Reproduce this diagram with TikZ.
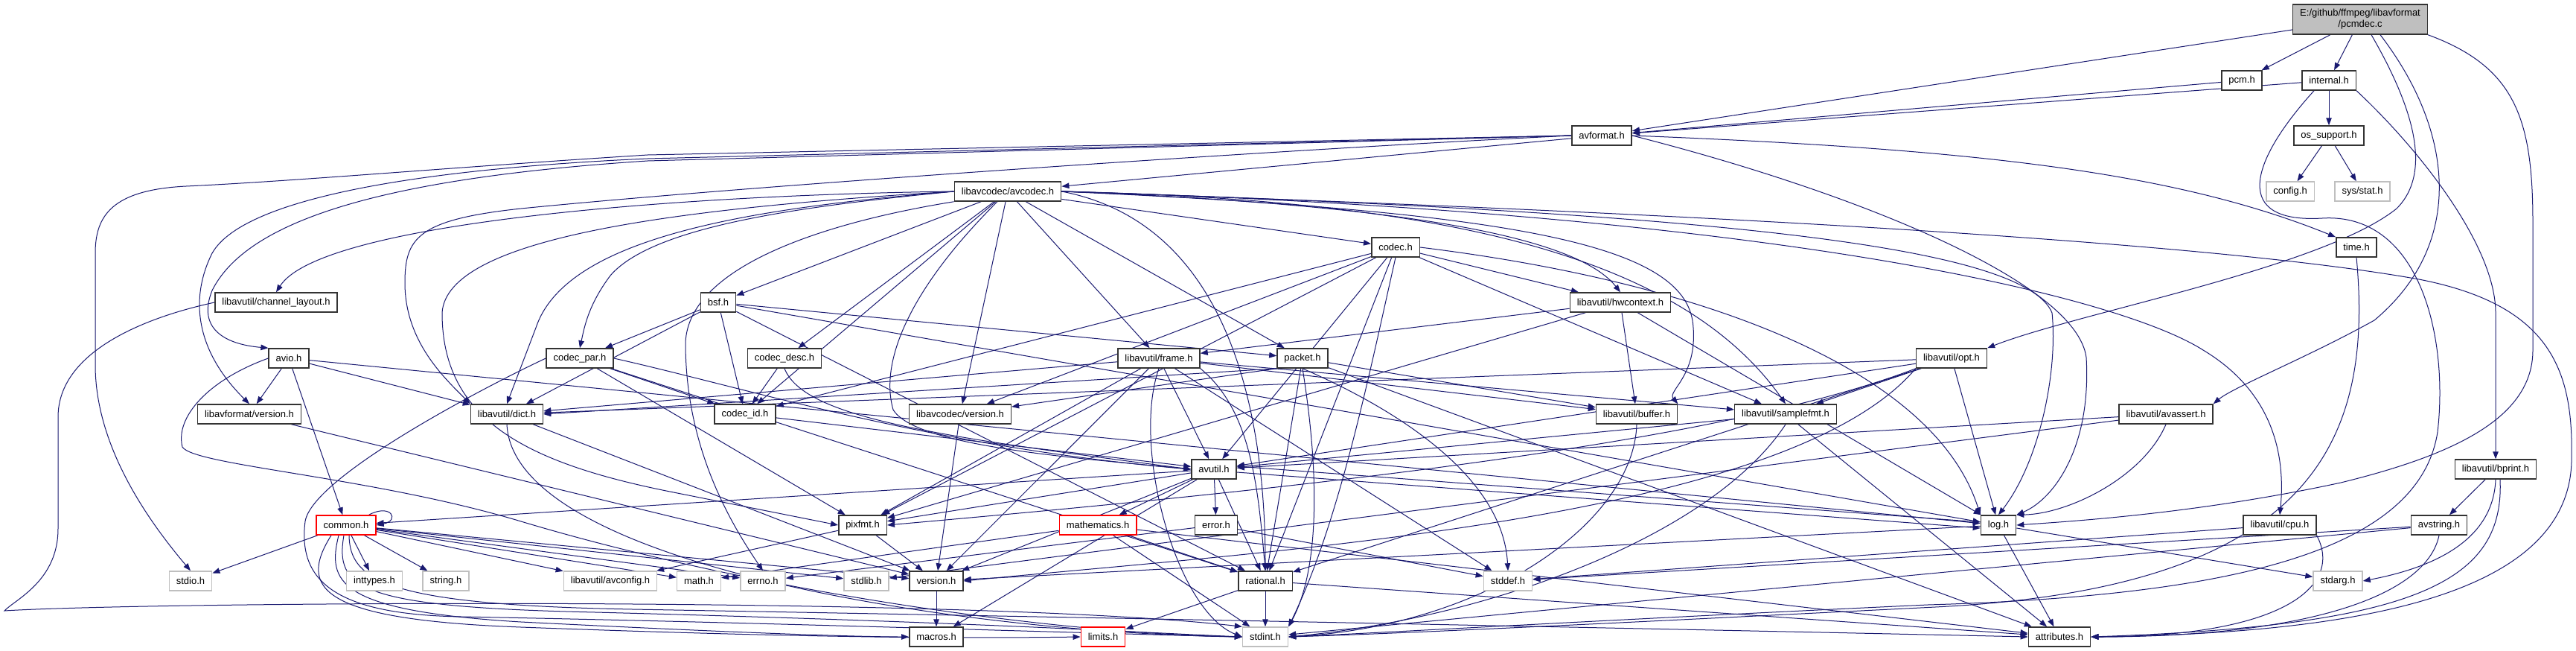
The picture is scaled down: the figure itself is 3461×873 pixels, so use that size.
\documentclass[tikz,border=0pt]{standalone}
\usepackage{fontspec}
\setmainfont{Liberation Sans}
\usetikzlibrary{arrows.meta}
\definecolor{edgec}{HTML}{191970}
\definecolor{grayb}{HTML}{BFBFBF}
\pgfdeclarelayer{back}
\pgfdeclarelayer{bg}
\pgfsetlayers{back,bg,main}
\begin{document}
\begin{tikzpicture}[x=1pt,y=-1pt,
  every node/.style={font=\fontsize{13}{15}\selectfont},
  nd/.style={draw=black!80, line width=1.5pt, fill=white, minimum height=26pt, inner xsep=9.5pt, inner ysep=0pt, text=black},
  sys/.style={nd, draw=grayb},
  trunc/.style={nd, draw=red},
  e/.style={draw=edgec, line width=1pt, -{Triangle[length=10pt,width=7.5pt]}},
]
\begin{pgfonlayer}{back}
\fill[white] (0,0) rectangle (3461,873);
\end{pgfonlayer}
\useasboundingbox (0,0) rectangle (3461,873);
% ---------- nodes ----------
\node[nd, fill=grayb, align=center, minimum height=40pt] (pcmdec) at (3171,26) {E:/github/ffmpeg/libavformat\\/pcmdec.c};
\node[nd] (pcm) at (3012,108) {pcm.h};
\node[nd] (internal) at (3129,108) {internal.h};
\node[nd] (avformat) at (2152,182) {avformat.h};
\node[nd] (ossupport) at (3129,182) {os\_support.h};
\node[sys] (config) at (3077,257) {config.h};
\node[sys] (sysstat) at (3174,257) {sys/stat.h};
\node[nd] (avcodec) at (1354,257) {libavcodec/avcodec.h};
\node[nd] (time) at (3166,332) {time.h};
\node[nd] (codec) at (1875,332) {codec.h};
\node[nd] (chlayout) at (371,406) {libavutil/channel\_layout.h};
\node[nd] (bsf) at (965,406) {bsf.h};
\node[nd] (hwctx) at (2177,406) {libavutil/hwcontext.h};
\node[nd] (avio) at (388,481) {avio.h};
\node[nd] (codecpar) at (779,481) {codec\_par.h};
\node[nd] (codecdesc) at (1054,481) {codec\_desc.h};
\node[nd] (frame) at (1557,481) {libavutil/frame.h};
\node[nd] (packet) at (1750,481) {packet.h};
\node[nd] (opt) at (2622,481) {libavutil/opt.h};
\node[nd] (lavfver) at (335,556) {libavformat/version.h};
\node[nd] (dict) at (681,556) {libavutil/dict.h};
\node[nd] (codecid) at (1001,556) {codec\_id.h};
\node[nd] (lavcver) at (1290,556) {libavcodec/version.h};
\node[nd] (buffer) at (2199,556) {libavutil/buffer.h};
\node[nd] (samplefmt) at (2399,556) {libavutil/samplefmt.h};
\node[nd] (avassert) at (2910,556) {libavutil/avassert.h};
\node[nd] (avutil) at (1631,630) {avutil.h};
\node[nd] (bprint) at (3353,630) {libavutil/bprint.h};
\node[trunc] (common) at (465,705) {common.h};
\node[nd] (pixfmt) at (1159,705) {pixfmt.h};
\node[trunc] (mathematics) at (1475,705) {mathematics.h};
\node[nd] (error) at (1634,705) {error.h};
\node[nd] (log) at (2685,705) {log.h};
\node[nd] (cpu) at (3063,705) {libavutil/cpu.h};
\node[nd] (avstring) at (3277,705) {avstring.h};
\node[sys] (stdio) at (256,780) {stdio.h};
\node[sys] (inttypes) at (503,780) {inttypes.h};
\node[sys] (string) at (599,780) {string.h};
\node[sys] (avconfig) at (820,780) {libavutil/avconfig.h};
\node[sys] (math) at (939,780) {math.h};
\node[sys] (errno) at (1025,780) {errno.h};
\node[sys] (stdlib) at (1164,780) {stdlib.h};
\node[nd] (version) at (1258,780) {version.h};
\node[nd] (rational) at (1700,780) {rational.h};
\node[sys] (stddef) at (2026,780) {stddef.h};
\node[sys] (stdarg) at (3141,780) {stdarg.h};
\node[nd] (macros) at (1258,855) {macros.h};
\node[trunc] (limits) at (1482,855) {limits.h};
\node[sys] (stdint) at (1700,855) {stdint.h};
\node[nd] (attributes) at (2767,855) {attributes.h};
% ---------- edges ----------
\begin{pgfonlayer}{bg}
% pcmdec
\draw[e] (pcmdec) -- (avformat);
\draw[e] (pcmdec) -- (pcm);
\draw[e] (pcmdec) -- (internal);
\draw[e] ([xshift=15pt]pcmdec.south) .. controls (3240,140) and (3270,230) .. (3220,280) .. controls (3120,360) and (2790,420) .. (opt.north east);
\draw[e] ([xshift=27pt]pcmdec.south) .. controls (3300,180) and (3310,330) .. (3190,430) .. controls (3100,480) and (3000,520) .. (avassert.north east);
\draw[e] (pcmdec.south east) .. controls (3380,90) and (3403,160) .. (3403,300) -- (3403,470) .. controls (3403,560) and (3300,610) .. (3145,648) .. controls (2950,690) and (2780,700) .. (log.east);
% pcm, internal, os_support
\draw[e] (pcm) -- (avformat);
\draw[e] (internal) -- (avformat);
\draw[e] (internal) -- (ossupport);
\draw[e] (internal.south east) .. controls (3250,200) and (3353,330) .. (3353,420) -- (bprint.north);
\draw[e] ([xshift=-20pt]internal.south) .. controls (3020,220) and (3000,300) .. (3120,293) .. controls (3250,285) and (3290,450) .. (3275,580) .. controls (3250,740) and (3000,800) .. (2590,812) .. controls (2200,830) and (1850,850) .. (stdint.east);
\draw[e] (ossupport) -- (config);
\draw[e] (ossupport) -- (sysstat);
% avformat
\draw[e] (avformat) -- (avcodec);
\draw[e] (avformat.east) .. controls (2650,200) and (2920,230) .. (time.north west);
\draw[e] (avformat.west) -- (870,208) .. controls (600,225) and (400,243) .. (250,250) .. controls (150,255) and (128,290) .. (128,340) -- (128,490) .. controls (128,600) and (200,700) .. (stdio.north);
\draw[e] (avformat.west) -- (870,213) .. controls (600,225) and (330,260) .. (285,340) .. controls (255,400) and (262,470) .. (lavfver.north);
\draw[e] (avformat.west) -- (870,216) .. controls (500,240) and (330,300) .. (285,390) .. controls (265,440) and (300,462) .. (avio.north west);
\draw[e] (avformat.west) .. controls (1700,202) and (1000,250) .. (700,280) .. controls (560,295) and (544,320) .. (544,380) .. controls (544,460) and (600,510) .. (dict.north west);
\draw[e] (avformat.east) .. controls (2500,260) and (2790,380) .. (2803,480) .. controls (2810,600) and (2760,670) .. (log.north east);
\draw[e] (time.south) .. controls (3190,600) and (3100,790) .. (2600,815) .. controls (2200,835) and (1900,850) .. (stdint.east);
% avcodec
\draw[e] (avcodec.south west) .. controls (1100,300) and (925,360) .. (921,460) .. controls (921,600) and (980,700) .. (errno.north);
\draw[e] (avcodec.east) .. controls (1900,268) and (2250,330) .. (samplefmt.north);
\draw[e] (avcodec.east) .. controls (2400,290) and (3000,330) .. (3250,375) .. controls (3430,410) and (3458,500) .. (3455,620) .. controls (3450,790) and (3200,850) .. (attributes.east);
\draw[e] ([xshift=-14pt]avcodec.south) .. controls (1230,380) and (1180,480) .. (1200,550) .. controls (1230,600) and (1450,615) .. (avutil.west);
\draw[e] (avcodec.east) .. controls (2050,285) and (2270,330) .. (2275,440) .. controls (2280,505) and (2240,525) .. (buffer.north east);
\draw[e] (avcodec.east) .. controls (2400,285) and (2850,400) .. (2960,470) .. controls (3060,530) and (3070,620) .. (cpu.north);
\draw[e] (avcodec.west) .. controls (900,262) and (430,300) .. (chlayout.north);
\draw[e] (avcodec.west) .. controls (1000,280) and (760,320) .. (720,440) -- (dict.north);
\draw[e] (avcodec) -- (frame);
\draw[e] (avcodec.east) .. controls (1900,275) and (2120,320) .. (hwctx.north);
\draw[e] (avcodec.east) .. controls (2300,285) and (2720,330) .. (2757,420) .. controls (2765,500) and (2740,620) .. (log.north);
\draw[e] (avcodec.west) .. controls (900,280) and (600,320) .. (594,420) .. controls (594,560) and (700,620) .. (900,660) -- (pixfmt.west);
\draw[e] (avcodec.east) .. controls (1650,300) and (1700,550) .. (rational.north);
\draw[e] (avcodec) -- (bsf);
\draw[e] (avcodec) -- (codec);
\draw[e] (avcodec) -- (codecdesc);
\draw[e] (avcodec.west) .. controls (1100,275) and (880,300) .. (820,370) .. controls (790,410) and (785,440) .. (codecpar.north);
\draw[e] (avcodec) -- (codecid);
\draw[e] (avcodec) -- (packet);
\draw[e] (avcodec) -- (lavcver);
% channel_layout
\draw[e] (chlayout.west) .. controls (200,425) and (78,470) .. (78,560) -- (78,710) .. controls (78,780) and (20,805) .. (6,820) .. controls (200,808) and (1300,800) .. (stdint.north west);
% bsf
\draw[e] (bsf) -- (dict);
\draw[e] (bsf) -- (log);
\draw[e] (bsf) -- (rational);
\draw[e] (bsf) -- (codecid);
\draw[e] (bsf) -- (codecpar);
\draw[e] (bsf) -- (packet);
% codec
\draw[e] (codec.south) .. controls (1840,500) and (1800,700) .. (stdint.north east);
\draw[e] (codec) -- (avutil);
\draw[e] (codec) -- (hwctx);
\draw[e] (codec.east) .. controls (2300,380) and (2600,500) .. (log.north west);
\draw[e] (codec) -- (pixfmt);
\draw[e] (codec) -- (rational);
\draw[e] (codec) -- (samplefmt);
\draw[e] (codec) -- (codecid);
\draw[e] (codec) -- (lavcver);
% hwcontext
\draw[e] (hwctx) -- (buffer);
\draw[e] (hwctx) -- (frame);
\draw[e] (hwctx) -- (log);
\draw[e] (hwctx) -- (pixfmt);
% avio
\draw[e] (avio.west) .. controls (280,510) and (235,560) .. (245,600) .. controls (260,625) and (500,640) .. (700,700) .. controls (1000,790) and (1400,850) .. (stdint.west);
\draw[e] (avio) -- (common);
\draw[e] (avio) -- (dict);
\draw[e] (avio) -- (log);
\draw[e] (avio) -- (lavfver);
% codec_par
\draw[e] (codecpar.west) .. controls (650,520) and (420,640) .. (410,700) .. controls (400,780) and (450,825) .. (620,828) .. controls (1000,835) and (1450,850) .. (stdint.west);
\draw[e] (codecpar.east) .. controls (1000,520) and (1250,600) .. (avutil.west);
\draw[e] (codecpar) -- (rational);
\draw[e] (codecpar) -- (pixfmt);
\draw[e] (codecpar) -- (codecid);
% codec_desc
\draw[e] (codecdesc.south) .. controls (1080,560) and (1250,585) .. (avutil.west);
\draw[e] (codecdesc) -- (codecid);
% frame
\draw[e] (frame) -- (stddef);
\draw[e] (frame.south) .. controls (1520,600) and (1580,820) .. (stdint.west);
\draw[e] (frame) -- (avutil);
\draw[e] (frame) -- (buffer);
\draw[e] (frame) -- (dict);
\draw[e] (frame.south east) .. controls (1680,550) and (1690,650) .. (rational.north);
\draw[e] (frame) -- (samplefmt);
\draw[e] (frame) -- (pixfmt);
\draw[e] (frame) -- (version);
% packet
\draw[e] (packet.south) .. controls (1900,560) and (2020,650) .. (stddef.north);
\draw[e] (packet.south) .. controls (1775,650) and (1770,770) .. (stdint.north east);
\draw[e] (packet) -- (attributes);
\draw[e] (packet) -- (buffer);
\draw[e] (packet.south west) -- (dict.east);
\draw[e] (packet) -- (rational);
\draw[e] (packet.south west) -- (lavcver);
% opt
\draw[e] (opt) -- (rational);
\draw[e] (opt) -- (avutil);
\draw[e] (opt) -- (dict);
\draw[e] (opt) -- (log);
\draw[e] (opt.south west) .. controls (2300,600) and (1700,660) .. (pixfmt.east);
\draw[e] (opt) -- (samplefmt);
\draw[e] (opt.south west) .. controls (2400,700) and (1700,740) .. (version.east);
% misc
\draw[e] (lavfver) -- (version);
\draw[e] (dict.south) .. controls (690,760) and (1300,850) .. (stdint.west);
\draw[e] (dict) -- (version);
\draw[e] (codecid) -- (avutil);
\draw[e] (lavcver) -- (version);
\draw[e] (buffer.south) .. controls (2195,700) and (2000,840) .. (stdint.east);
\draw[e] (samplefmt.south) .. controls (2300,720) and (2000,830) .. (stdint.east);
\draw[e] (samplefmt) -- (avutil);
\draw[e] (samplefmt) -- (attributes);
% avassert
\draw[e] (avassert) -- (stdlib);
\draw[e] (avassert) -- (avutil);
\draw[e] (avassert.south) .. controls (2880,640) and (2780,690) .. (log.north east);
% avutil
\draw[e] (avutil) -- (common);
\draw[e] (avutil) -- (error);
\draw[e] (avutil) -- (rational);
\draw[e] (avutil) -- (version);
\draw[e] (avutil) -- (macros);
\draw[e] (avutil) -- (mathematics);
\draw[e] ([yshift=-4pt]avutil.east) -- ([yshift=-4pt]log.west);
\draw[e] (avutil) -- (pixfmt);
% log
\draw[e] (log) -- (stdarg);
\draw[e] ([yshift=4pt]log.west) -- ([yshift=4pt]avutil.east);
\draw[e] (log) -- (attributes);
\draw[e] (log) -- (version);
% bprint
\draw[e] (bprint.south) .. controls (3350,720) and (3280,760) .. (stdarg.east);
\draw[e] ([xshift=6pt]bprint.south) .. controls (3365,780) and (3250,840) .. (attributes.east);
\draw[e] (bprint) -- (avstring);
% avstring
\draw[e] (avstring) -- (stddef);
\draw[e] (avstring) -- (stdint);
\draw[e] (avstring.south) .. controls (3260,800) and (3100,855) .. (attributes.east);
% cpu
\draw[e] (cpu) -- (stddef);
\draw[e] (cpu.south east) .. controls (3150,790) and (3060,855) .. (attributes.east);
% error
\draw[e] (error) -- (errno);
\draw[e] (error) -- (stddef);
% mathematics
\draw[e] (mathematics) -- (stdint);
\draw[e] (mathematics) -- (math);
\draw[e] (mathematics) -- (attributes);
\draw[e] (mathematics) -- (rational);
% pixfmt
\draw[e] (pixfmt) -- (avconfig);
\draw[e] (pixfmt) -- (version);
% version, rational
\draw[e] (version) -- (macros);
\draw[e] (rational) -- (stdint);
\draw[e] (rational) -- (limits);
\draw[e] (rational) -- (attributes);
% common
\draw[e] ([xshift=-10pt]common.north east) .. controls +(30,-16) and +(32,-6) .. (common.east);
\draw[e] (common) -- (stdio);
\draw[e] (common) -- (inttypes);
\draw[e] (common) -- (string);
\draw[e] (common) -- (avconfig);
\draw[e] (common) -- (math);
\draw[e] (common) -- (errno);
\draw[e] (common) -- (stdlib);
\draw[e] (common) -- (version);
\draw[e] ([xshift=-10pt]common.south) .. controls (440,780) and (450,820) .. (700,835) .. controls (1000,850) and (1150,855) .. (macros.west);
\draw[e] ([xshift=-20pt]common.south) .. controls (400,790) and (430,832) .. (700,842) .. controls (1100,857) and (1300,857) .. (limits.west);
\draw[e] ([xshift=-3pt]common.south) .. controls (450,790) and (480,815) .. (800,822) .. controls (1300,835) and (1550,850) .. (stdint.west);
\draw[e] ([xshift=4pt]common.south) .. controls (470,780) and (520,812) .. (850,818) .. controls (1800,835) and (2500,850) .. (attributes.west);
\end{pgfonlayer}
\end{tikzpicture}
\end{document}
